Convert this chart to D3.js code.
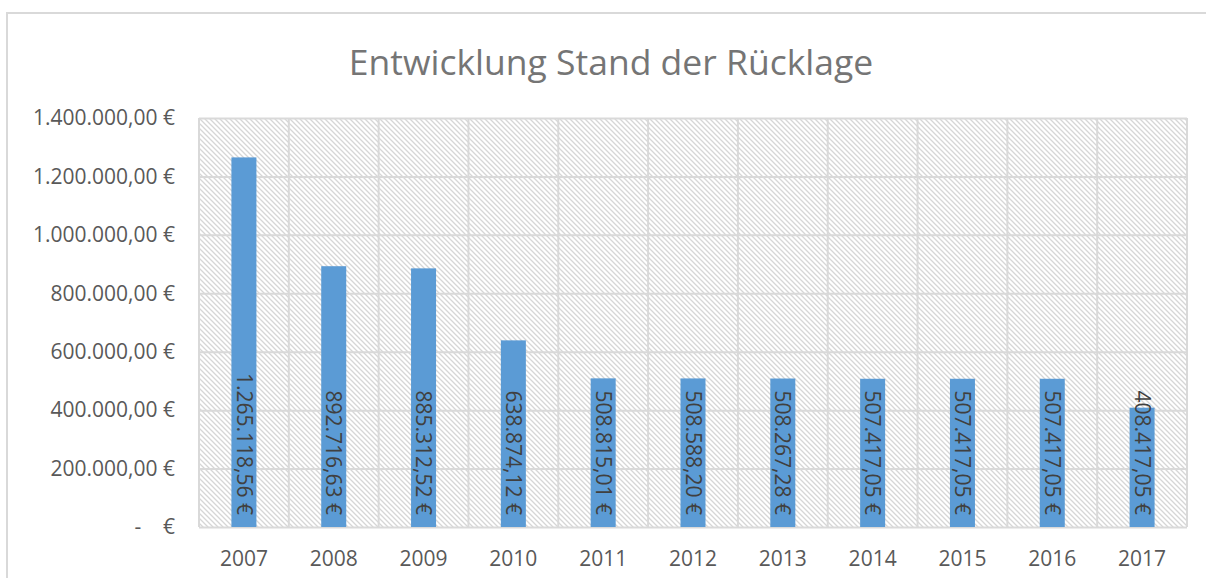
<!DOCTYPE html>
<html>
<head>
<meta charset="utf-8">
<script src="https://cdn.jsdelivr.net/npm/d3@7"></script>
<style>
  body { margin: 0; background: #fff; }
  text { font-family: "Open Sans", "Noto Sans", sans-serif; }
</style>
</head>
<body>
<div id="chart"></div>
<script>
// chart data
var years = ["2007", "2008", "2009", "2010", "2011", "2012", "2013", "2014", "2015", "2016", "2017"];
var reserve = [1265118.56, 892716.63, 885312.52, 638874.12, 508815.01, 508588.20, 508267.28, 507417.05, 507417.05, 507417.05, 408417.05];
var yTicks = [0, 200000, 400000, 600000, 800000, 1000000, 1200000, 1400000];
var chartTitle = "Entwicklung Stand der Rücklage";

var svgWidth = 1206;
var svgHeight = 578;

var margin = { top: 118, right: 19, bottom: 51, left: 199 };
var width = svgWidth - margin.left - margin.right;
var height = svgHeight - margin.top - margin.bottom;

var svg = d3.select("#chart")
  .append("svg")
  .attr("width", svgWidth)
  .attr("height", svgHeight);

// hatch pattern for plot background
var defs = svg.append("defs");
defs.append("pattern")
  .attr("id", "hatch")
  .attr("patternUnits", "userSpaceOnUse")
  .attr("width", 5)
  .attr("height", 5)
  .append("path")
  .attr("d", "M0,0 L5,5 M-1,4 L1,6 M4,-1 L6,1")
  .attr("stroke", "#d6d6d6")
  .attr("stroke-width", 1.3);

// outer chart frame (cut off at right and bottom)
svg.append("path")
  .attr("d", "M7," + svgHeight + " L7,13 L" + svgWidth + ",13")
  .attr("fill", "none")
  .attr("stroke", "#d9d9d9")
  .attr("stroke-width", 2);

// number format in German style
var de = d3.formatLocale({ decimal: ",", thousands: ".", grouping: [3], currency: ["", " €"] });
var fmt = de.format(",.2f");

// title
svg.append("text")
  .attr("x", 611)
  .attr("y", 75)
  .attr("text-anchor", "middle")
  .attr("font-size", "35.5px")
  .attr("fill", "#757575")
  .text(chartTitle);

var chartGroup = svg.append("g")
  .attr("transform", `translate(${margin.left}, ${margin.top})`);

// scales
var xScale = d3.scaleBand()
  .domain(years)
  .range([0, width])
  .padding(0);

var yScale = d3.scaleLinear()
  .domain([0, 1400000])
  .range([height, 0]);

// plot area background
chartGroup.append("rect")
  .attr("width", width)
  .attr("height", height)
  .attr("fill", "url(#hatch)");

// horizontal gridlines
chartGroup.append("g")
  .call(d3.axisLeft(yScale).tickValues(yTicks).tickSize(-width).tickFormat(""))
  .call(g => g.select(".domain").remove())
  .selectAll("line")
  .attr("stroke", "#d9d9d9")
  .attr("stroke-width", 2);

// vertical gridlines at category boundaries
chartGroup.selectAll(".vgrid")
  .data(years.concat(["end"]))
  .enter()
  .append("line")
  .attr("class", "vgrid")
  .attr("x1", (d, i) => i * xScale.step())
  .attr("x2", (d, i) => i * xScale.step())
  .attr("y1", 0)
  .attr("y2", height)
  .attr("stroke", "#d9d9d9")
  .attr("stroke-width", 2);

// y axis labels
chartGroup.selectAll(".ylabel")
  .data(yTicks)
  .enter()
  .append("text")
  .attr("class", "ylabel")
  .attr("x", -24)
  .attr("y", d => yScale(d))
  .attr("dy", "0.35em")
  .attr("text-anchor", "end")
  .attr("font-size", "21px")
  .attr("fill", "#595959")
  .attr("xml:space", "preserve")
  .text(d => d === 0 ? "-    €" : fmt(d) + " €");

// x axis labels
chartGroup.append("g")
  .attr("transform", `translate(0, ${height})`)
  .call(d3.axisBottom(xScale).tickSize(0).tickPadding(24))
  .call(g => g.select(".domain").remove())
  .selectAll("text")
  .attr("font-size", "21px")
  .attr("font-family", "'Open Sans', 'Noto Sans', sans-serif")
  .attr("fill", "#595959");

// bars
var barWidth = 25;
chartGroup.selectAll(".bar")
  .data(reserve)
  .enter()
  .append("rect")
  .attr("class", "bar")
  .attr("x", (d, i) => xScale(years[i]) + xScale.bandwidth() / 2 - barWidth / 2)
  .attr("y", d => yScale(d))
  .attr("width", barWidth)
  .attr("height", d => height - yScale(d))
  .attr("fill", "#5b9bd5");

// bar value labels, rotated, anchored at the base
chartGroup.selectAll(".vlabel")
  .data(reserve)
  .enter()
  .append("text")
  .attr("class", "vlabel")
  .attr("transform", (d, i) => `translate(${xScale(years[i]) + xScale.bandwidth() / 2}, ${height - 12}) rotate(90)`)
  .attr("text-anchor", "end")
  .attr("dy", "0.35em")
  .attr("font-size", "21px")
  .attr("fill", "#404040")
  .text(d => fmt(d) + " €");
</script>
</body>
</html>
